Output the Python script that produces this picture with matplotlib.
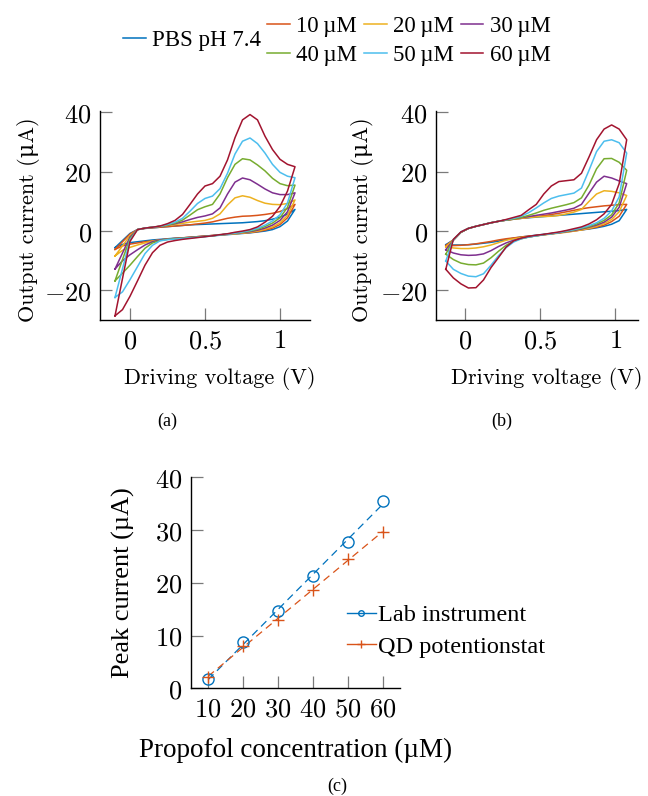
import numpy as np
import matplotlib
matplotlib.use('Agg')
import matplotlib.pyplot as plt
from matplotlib.lines import Line2D

plt.rcParams['mathtext.fontset'] = 'cm'

# ---------------- data ----------------
series_labels = ['PBS pH 7.4', '10\u2009µM', '20\u2009µM', '30\u2009µM',
                 '40\u2009µM', '50\u2009µM', '60\u2009µM']
series_colors = ['#0072BD', '#D95319', '#EDB120', '#7E2F8E',
                 '#77AC30', '#4DBEEE', '#A2142F']

# panel (a): lab instrument CVs
V_a = [-0.10, -0.05, 0.00, 0.05, 0.10, 0.15, 0.20, 0.25, 0.30, 0.35, 0.40, 0.45,
       0.50, 0.55, 0.60, 0.65, 0.70, 0.75, 0.80, 0.85, 0.90, 0.95, 1.00, 1.05, 1.10]
a_up_pbs = [-5.6, -3.2, -0.8, 0.5, 0.9, 1.1, 1.3, 1.5, 1.7, 1.9, 2.1, 2.2, 2.3, 2.4,
            2.5, 2.6, 2.7, 2.8, 3.0, 3.2, 3.5, 4.0, 4.7, 5.7, 7.3]
a_up_10 = [-6.2, -3.6, -1.0, 0.5, 0.9, 1.1, 1.3, 1.5, 1.7, 1.9, 2.1, 2.4, 2.7, 3.1,
           3.7, 4.3, 4.7, 5.0, 5.1, 5.3, 5.6, 6.0, 6.6, 7.6, 9.0]
a_up_20 = [-8.4, -5.0, -1.5, 0.5, 1.0, 1.3, 1.6, 1.9, 2.2, 2.6, 3.0, 3.3, 3.6, 4.3,
           5.8, 8.8, 11.2, 11.9, 11.4, 10.3, 9.4, 9.0, 8.9, 9.3, 10.5]
a_up_30 = [-12.8, -7.4, -2.0, 0.5, 1.0, 1.3, 1.6, 2.0, 2.5, 3.1, 3.9, 4.6, 5.1, 5.8,
           7.8, 12.5, 16.5, 17.9, 17.3, 15.8, 14.2, 12.9, 12.3, 12.3, 12.9]
a_up_40 = [-16.8, -9.6, -2.5, 0.5, 1.0, 1.3, 1.6, 2.0, 2.7, 3.7, 5.4, 7.2, 8.2, 9.0,
           12.5, 18.0, 22.5, 24.4, 24.0, 22.3, 20.3, 17.8, 16.0, 15.3, 15.5]
a_up_50 = [-22.4, -12.7, -3.0, 0.5, 1.0, 1.3, 1.6, 2.2, 3.0, 4.3, 6.7, 9.3, 11.0, 11.8,
           14.3, 19.5, 26.0, 30.3, 31.4, 29.5, 26.3, 22.5, 19.8, 18.5, 18.0]
a_up_60 = [-28.6, -16.0, -3.5, 0.5, 1.0, 1.3, 1.7, 2.5, 3.6, 5.6, 9.0, 12.5, 15.2, 16.0,
           18.5, 24.0, 31.5, 37.5, 39.3, 37.5, 32.0, 27.5, 24.2, 22.5, 21.7]
a_low_pbs = [-5.6, -4.5, -3.9, -3.6, -3.3, -3.0, -2.8, -2.6, -2.4, -2.3, -2.2, -2.0, -1.8,
             -1.6, -1.4, -1.2, -1.0, -0.8, -0.6, -0.3, 0.0, 0.5, 1.5, 3.4, 7.3]
a_low_10 = [-6.2, -5.0, -4.4, -4.0, -3.6, -3.3, -3.0, -2.7, -2.5, -2.3, -2.1, -1.9, -1.7,
            -1.5, -1.3, -1.1, -0.9, -0.7, -0.5, -0.2, 0.3, 1.0, 2.2, 4.5, 9.0]
a_low_20 = [-8.4, -6.5, -5.5, -4.7, -4.0, -3.4, -3.0, -2.7, -2.5, -2.3, -2.1, -1.9, -1.7,
            -1.5, -1.3, -1.1, -0.9, -0.7, -0.4, 0.0, 0.6, 1.4, 2.8, 5.3, 10.5]
a_low_30 = [-12.8, -10.0, -8.0, -6.3, -4.7, -3.6, -3.0, -2.7, -2.5, -2.3, -2.1, -1.9, -1.7,
            -1.5, -1.3, -1.0, -0.7, -0.5, -0.2, 0.3, 1.0, 2.0, 3.6, 6.5, 12.9]
a_low_40 = [-16.8, -14.2, -11.5, -8.6, -5.8, -4.0, -3.2, -2.8, -2.6, -2.4, -2.2, -2.0, -1.8,
            -1.6, -1.3, -1.0, -0.7, -0.4, 0.0, 0.6, 1.5, 2.7, 4.5, 8.0, 15.5]
a_low_50 = [-22.4, -20.5, -16.4, -12.0, -7.6, -4.8, -3.3, -2.9, -2.7, -2.5, -2.3, -2.1, -1.9,
            -1.6, -1.3, -1.0, -0.7, -0.3, 0.2, 0.9, 2.0, 3.4, 5.5, 9.5, 18.0]
a_low_60 = [-28.6, -26.5, -22.0, -16.8, -11.5, -7.3, -4.8, -3.7, -3.2, -2.8, -2.5, -2.2, -1.9,
            -1.6, -1.2, -0.9, -0.4, 0.0, 0.5, 1.4, 3.0, 5.0, 8.3, 13.5, 21.7]

# panel (b): QD potentiostat CVs
V_b = [-0.125, -0.075, -0.025, 0.025, 0.075, 0.125, 0.175, 0.225, 0.275, 0.325, 0.375,
       0.425, 0.475, 0.525, 0.575, 0.625, 0.675, 0.725, 0.775, 0.825, 0.875, 0.925,
       0.975, 1.025, 1.075]
b_up_pbs = [-4.6, -3.0, -0.4, 0.9, 1.6, 2.2, 2.8, 3.3, 3.7, 4.0, 4.3, 4.5, 4.7, 4.9, 5.1,
            5.3, 5.5, 5.7, 5.9, 6.1, 6.3, 6.5, 6.7, 6.9, 7.3]
b_up_10 = [-4.9, -3.0, -0.4, 0.9, 1.6, 2.2, 2.8, 3.3, 3.7, 4.0, 4.3, 4.6, 4.9, 5.2, 5.6,
           6.0, 6.5, 7.0, 7.5, 7.9, 8.2, 8.5, 8.7, 8.9, 9.0]
b_up_20 = [-5.3, -3.0, -0.4, 0.9, 1.6, 2.2, 2.8, 3.3, 3.7, 4.0, 4.3, 4.6, 4.8, 4.9, 5.0,
           5.3, 5.8, 6.4, 7.3, 10.0, 12.5, 13.6, 13.4, 12.9, 12.0]
b_up_30 = [-6.3, -3.1, -0.4, 0.9, 1.6, 2.2, 2.8, 3.3, 3.7, 4.1, 4.5, 4.9, 5.3, 5.7, 6.1,
           6.6, 7.1, 7.7, 9.0, 12.8, 16.5, 18.5, 17.9, 16.9, 16.0]
b_up_40 = [-7.8, -3.0, -0.4, 0.9, 1.6, 2.2, 2.8, 3.3, 3.7, 4.1, 4.6, 5.3, 6.1, 7.0, 7.7,
           8.3, 8.9, 9.6, 11.2, 15.5, 21.0, 24.4, 24.5, 23.2, 20.5]
b_up_50 = [-10.1, -2.9, -0.3, 0.9, 1.6, 2.2, 2.8, 3.3, 3.8, 4.3, 5.0, 6.2, 7.8, 9.5, 11.0,
           11.8, 12.3, 12.8, 14.5, 20.5, 26.8, 30.3, 30.8, 29.8, 26.3]
b_up_60 = [-12.9, -2.8, -0.3, 0.9, 1.6, 2.2, 2.8, 3.3, 3.9, 4.6, 5.3, 7.2, 9.0, 12.5, 15.2,
           16.7, 17.0, 17.3, 19.5, 25.0, 30.8, 34.4, 35.8, 34.4, 30.8]
b_low_pbs = [-4.6, -4.7, -4.7, -4.6, -4.4, -4.1, -3.8, -3.4, -2.9, -2.4, -2.0, -1.7, -1.4,
             -1.1, -0.8, -0.5, -0.2, 0.1, 0.4, 0.7, 1.1, 1.6, 2.3, 3.5, 7.3]
b_low_10 = [-4.9, -4.9, -4.8, -4.6, -4.3, -3.9, -3.5, -3.0, -2.6, -2.3, -2.0, -1.7, -1.5,
            -1.2, -0.9, -0.6, -0.3, 0.0, 0.4, 0.8, 1.3, 2.0, 3.2, 5.0, 9.0]
b_low_20 = [-5.3, -5.7, -5.9, -5.9, -5.7, -5.3, -4.7, -3.9, -3.1, -2.6, -2.2, -1.9, -1.6,
            -1.3, -1.0, -0.7, -0.4, 0.0, 0.4, 0.9, 1.6, 2.5, 3.9, 6.5, 12.0]
b_low_30 = [-6.3, -7.4, -8.0, -8.2, -8.1, -7.7, -6.6, -5.2, -4.0, -3.1, -2.5, -2.0, -1.6,
            -1.2, -0.9, -0.6, -0.2, 0.2, 0.7, 1.3, 2.0, 3.0, 4.7, 8.0, 16.0]
b_low_40 = [-7.8, -9.6, -10.8, -11.3, -11.4, -10.8, -9.0, -6.8, -4.8, -3.4, -2.6, -2.0, -1.6,
            -1.2, -0.9, -0.5, -0.1, 0.4, 0.9, 1.5, 2.4, 3.6, 5.5, 9.5, 20.5]
b_low_50 = [-10.1, -12.9, -14.3, -15.2, -15.4, -14.4, -11.5, -8.3, -5.6, -3.7, -2.6, -2.0,
            -1.6, -1.2, -0.9, -0.5, 0.0, 0.5, 1.1, 1.8, 2.8, 4.3, 6.8, 11.5, 26.3]
b_low_60 = [-12.9, -15.8, -17.8, -19.2, -19.1, -16.5, -12.3, -8.9, -5.4, -3.3, -2.4, -1.8,
            -1.4, -1.1, -0.7, -0.3, 0.2, 0.8, 1.4, 2.4, 3.8, 5.8, 9.0, 16.0, 30.8]

# panel (c): peak current vs concentration
conc = [10, 20, 30, 40, 50, 60]
peak_lab = [1.7, 8.7, 14.7, 21.2, 27.7, 35.5]
peak_qd = [2.2, 8.1, 12.9, 18.6, 24.5, 29.6]
lab_color = '#0072BD'
qd_color = '#D95319'

a_up = [a_up_pbs, a_up_10, a_up_20, a_up_30, a_up_40, a_up_50, a_up_60]
a_low = [a_low_pbs, a_low_10, a_low_20, a_low_30, a_low_40, a_low_50, a_low_60]
b_up = [b_up_pbs, b_up_10, b_up_20, b_up_30, b_up_40, b_up_50, b_up_60]
b_low = [b_low_pbs, b_low_10, b_low_20, b_low_30, b_low_40, b_low_50, b_low_60]

# ---------------- figure ----------------
W, H = 648, 796
fig = plt.figure(figsize=(W / 100, H / 100), dpi=100)

def fbox(x0, y0, x1, y1):
    return [x0 / W, 1 - y1 / H, (x1 - x0) / W, (y1 - y0) / H]

CM = ['cmr10', 'DejaVu Serif']
TIMES = ['Liberation Serif', 'DejaVu Serif']
FS = 16.5
LFS = 16
TFS = 19
TICKC = '#7a7a7a'

def style(ax):
    for s in ['top', 'right']:
        ax.spines[s].set_visible(False)
    for s in ['left', 'bottom']:
        ax.spines[s].set_linewidth(1.0)
    ax.tick_params(direction='in', length=8.5, width=0.9, color=TICKC,
                   labelsize=TFS, pad=6)

def cv_panel(ax, V, ups, lows, xlim, label_dx, ylab_x):
    handles = []
    for up, low, c, lab in zip(ups, lows, series_colors, series_labels):
        x = list(V) + list(V[::-1])
        y = list(up) + list(low[::-1])
        h, = ax.plot(x, y, color=c, lw=1.1, solid_joinstyle='round', label=lab)
        handles.append(h)
    ax.set_xlim(*xlim)
    ax.set_ylim(-30, 40.5)
    ax.set_xticks([0, 0.5, 1])
    ax.set_xticklabels(['$0$', '$0.5$', '$1$'])
    ax.set_yticks([-20, 0, 20, 40])
    ax.set_yticklabels(['$-20$', '$0$', '$20$', '$40$'])
    style(ax)
    ax.set_xlabel('Driving voltage (V)', fontsize=LFS, family=CM)
    ax.set_ylabel('Output current (\u03bcA)', fontsize=LFS, family=CM)
    ax.xaxis.set_label_coords(0.5 + label_dx, -0.225)
    ax.yaxis.set_label_coords(ylab_x, 0.48)
    return handles

ax_a = fig.add_axes(fbox(100, 111, 310, 320))
handles = cv_panel(ax_a, V_a, a_up, a_low, (-0.2, 1.2), 0.071, -0.285)
ax_b = fig.add_axes(fbox(436, 111, 638, 320))
cv_panel(ax_b, V_b, b_up, b_low, (-0.19, 1.15), 0.05, -0.305)

fig.text(167 / W, 1 - 421 / H, '(a)', fontsize=13, family=TIMES, ha='center', va='center')
fig.text(502 / W, 1 - 421 / H, '(b)', fontsize=13, family=TIMES, ha='center', va='center')
fig.text(337 / W, 1 - 786 / H, '(c)', fontsize=13, family=TIMES, ha='center', va='center')

# top legends
leg_kw = dict(frameon=False, borderpad=0, borderaxespad=0, handlelength=1.0,
              handletextpad=0.3, prop={'family': TIMES, 'size': FS})
leg1 = fig.legend([handles[0]], [series_labels[0]], loc='center left',
                  bbox_to_anchor=(122.7 / W, 1 - 40 / H), **leg_kw)
order = [1, 4, 2, 5, 3, 6]
leg2 = fig.legend([handles[i] for i in order], [series_labels[i] for i in order],
                  loc='center left', bbox_to_anchor=(266.7 / W, 1 - 41 / H), ncol=3,
                  columnspacing=0.27, labelspacing=0.37, **leg_kw)

# panel (c)
ax_c = fig.add_axes(fbox(190.7, 477.3, 400, 688.3))
fit_lab = np.polyfit(conc, peak_lab, 1)
fit_qd = np.polyfit(conc, peak_qd, 1)
xs = np.array([conc[0], conc[-1]])
ax_c.plot(xs, np.polyval(fit_lab, xs), color=lab_color, lw=0.9, dashes=(6, 4))
ax_c.plot(xs, np.polyval(fit_qd, xs), color=qd_color, lw=0.9, dashes=(6, 4))
ax_c.plot(conc, peak_lab, ls='none', marker='o', ms=8, mfc='none', mec=lab_color, mew=1.0)
ax_c.plot(conc, peak_qd, ls='none', marker='+', ms=9, mec=qd_color, mew=1.0)
ax_c.set_xlim(5, 65)
ax_c.set_ylim(0, 40)
ax_c.set_xticks(conc)
ax_c.set_xticklabels(['$%d$' % c for c in conc])
ax_c.set_yticks([0, 10, 20, 30, 40])
ax_c.set_yticklabels(['$%d$' % v for v in [0, 10, 20, 30, 40]])
style(ax_c)
ax_c.set_xlabel('Propofol concentration (µM)', fontsize=19.5, family=TIMES)
ax_c.set_ylabel('Peak current (µA)', fontsize=19, family=TIMES)
ax_c.xaxis.set_label_coords(0.5, -0.235)
ax_c.yaxis.set_label_coords(-0.265, 0.5)

h_lab = Line2D([], [], color=lab_color, lw=1.0, marker='o', ms=4, mfc='none', mew=1.0)
h_qd = Line2D([], [], color=qd_color, lw=1.0, marker='+', ms=6, mew=1.0)
fig.legend([h_lab, h_qd], ['Lab instrument', 'QD potentionstat'], loc='center left',
           bbox_to_anchor=(346.7 / W, 1 - 631 / H), frameon=False, borderpad=0,
           borderaxespad=0, handlelength=1.2, handletextpad=0.1, labelspacing=0.4,
           prop={'family': TIMES, 'size': 17.5})

fig.savefig('out.png', dpi=100)
